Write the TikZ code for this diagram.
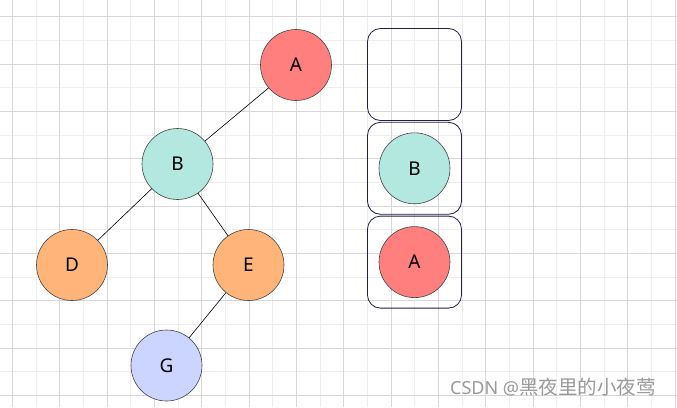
\documentclass[tikz,border=0pt]{standalone}
\usepackage{fontspec}
\setmainfont{Noto Sans}
\newfontfamily\cjkfont{Noto Sans CJK SC}
\usetikzlibrary{positioning}
\definecolor{cRed}{HTML}{FF7F7F}
\definecolor{cMint}{HTML}{B3E8E0}
\definecolor{cOrange}{HTML}{FFB57A}
\definecolor{cLilac}{HTML}{CCD5FF}
\definecolor{cRim}{HTML}{444444}
\definecolor{cNavy}{HTML}{1F1F4A}
\definecolor{cGridMajor}{HTML}{D8D8D8}
\definecolor{cGridMinor}{HTML}{EEEEEE}
\definecolor{cMark}{HTML}{9A9A9A}
\tikzset{
  vertex/.style={
    circle, draw=cRim, fill=#1, line width=0.6pt,
    minimum size=71pt, inner sep=0pt, font=\fontsize{19}{22}\selectfont
  },
  slot/.style={
    rectangle, rounded corners=13pt, draw=cNavy, line width=0.8pt,
    minimum width=94pt, minimum height=92pt, inner sep=0pt
  },
  link/.style={draw=black, line width=0.6pt},
  majorline/.style={draw=cGridMajor, line width=0.8pt},
  minorline/.style={draw=cGridMinor, line width=0.8pt},
  watermark/.style={font=\fontsize{18}{20}\selectfont, text=cMark, inner sep=0pt},
}

\begin{document}
\begin{tikzpicture}[x=1pt, y=-1pt]

  % Canvas and grid
  \fill[white] (0,0) rectangle (677,407);
  \useasboundingbox (0,0) rectangle (677,407);
  \foreach \k in {0,...,13} \draw[minorline] ({35.97+47.33*\k},0) -- ++(0,407);
  \foreach \k in {0,...,7} \draw[minorline] (0,{40.4+47.33*\k}) -- ++(677,0);
  \foreach \k in {0,...,14} \draw[majorline] ({12.3+47.33*\k},0) -- ++(0,407);
  \foreach \k in {0,...,8} \draw[majorline] (0,{16.7+47.33*\k}) -- ++(677,0);

  % Tree
  \node[vertex=cRed] (A) at (296,65) {A};
  \node[vertex=cMint, on grid, below left=99pt and 118.5pt of A] (B) {B};
  \node[vertex=cOrange, on grid, below left=101pt and 105.5pt of B] (D) {D};
  \node[vertex=cOrange, on grid, below right=101pt and 71pt of B] (E) {E};
  \node[vertex=cLilac, on grid, below left=100.5pt and 82pt of E] (G) {G};

  \draw[link] (A) -- (B);
  \draw[link] (B) -- (D);
  \draw[link] (B) -- (E);
  \draw[link] (E) -- (G);

  % Stack
  \node[slot] (top) at (414.5,74.5) {};
  \node[slot, below=1pt of top] (mid) {};
  \node[slot, below=1pt of mid] (bot) {};
  \node[vertex=cMint] (sB) at (mid) {B};
  \node[vertex=cRed] (sA) at (bot) {A};

  % Watermark
  \node[watermark, anchor=base west] (mark) at (450,394)
    {CSDN @{\cjkfont\fontsize{19.5}{20}\selectfont 黑夜里的小夜莺}};

\end{tikzpicture}
\end{document}
